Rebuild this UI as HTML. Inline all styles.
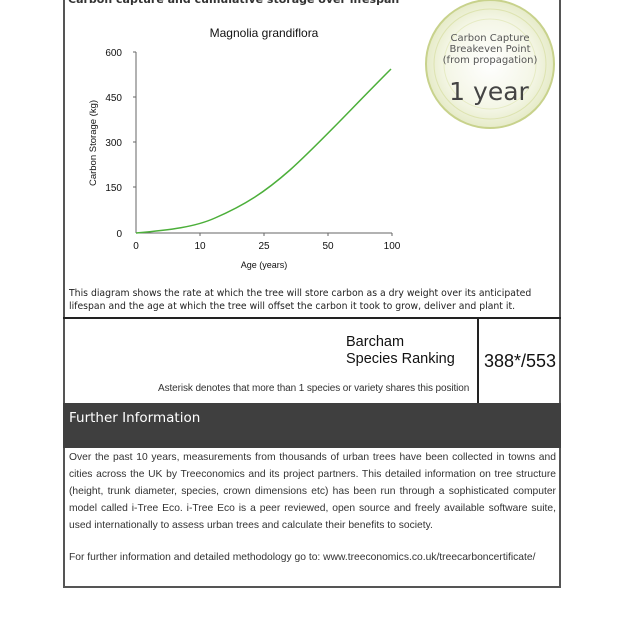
<!DOCTYPE html>
<html><head><style>
body{margin:0;width:620px;height:620px;background:#fff;position:relative;overflow:hidden;font-family:"DejaVu Sans","Liberation Sans",sans-serif}
.a{position:absolute}
.ls{font-family:"Liberation Sans",sans-serif}
</style></head><body>
<div class="a" style="left:63px;top:0;width:2px;height:588px;background:#555"></div>
<div class="a" style="left:559px;top:0;width:2px;height:588px;background:#555"></div>
<div class="a" style="left:63px;top:586px;width:498px;height:2px;background:#555"></div>
<div class="a" style="left:68px;top:-7px;font-size:11px;font-weight:bold;color:#333">Carbon capture and cumulative storage over lifespan</div>
<svg class="a" style="left:0;top:0" width="620" height="320">
<defs><radialGradient id="g" cx="0.5" cy="0.5" r="0.5"><stop offset="0" stop-color="#fff"/><stop offset="0.7" stop-color="#f4f6e6"/><stop offset="1" stop-color="#e6ebc8"/></radialGradient></defs>
<ellipse cx="490" cy="64" rx="64" ry="64" fill="url(#g)" stroke="#c8d28c" stroke-width="2"/>
<ellipse cx="490" cy="64" rx="56" ry="55" fill="none" stroke="#dde3b0" stroke-width="1"/>
<ellipse cx="490" cy="64" rx="46" ry="45" fill="none" stroke="#e6ebc4" stroke-width="1"/>
<text x="490" y="41" font-size="10" text-anchor="middle" fill="#555" font-family="DejaVu Sans">Carbon Capture</text>
<text x="490" y="52" font-size="10" text-anchor="middle" fill="#555" font-family="DejaVu Sans">Breakeven Point</text>
<text x="490" y="63" font-size="10" text-anchor="middle" fill="#555" font-family="DejaVu Sans">(from propagation)</text>
<text x="489" y="100" font-size="25" text-anchor="middle" fill="#444" font-family="DejaVu Sans">1 year</text>
<text x="264" y="37" font-size="12" text-anchor="middle" fill="#111" font-family="Liberation Sans">Magnolia grandiflora</text>
<g font-family="Liberation Sans" font-size="10" fill="#111">
<text x="122" y="56" text-anchor="end">600</text>
<text x="122" y="101" text-anchor="end">450</text>
<text x="122" y="146" text-anchor="end">300</text>
<text x="122" y="191" text-anchor="end">150</text>
<text x="122" y="237" text-anchor="end">0</text>
<text x="136" y="249" text-anchor="middle">0</text>
<text x="200" y="249" text-anchor="middle">10</text>
<text x="264" y="249" text-anchor="middle">25</text>
<text x="328" y="249" text-anchor="middle">50</text>
<text x="392" y="249" text-anchor="middle">100</text>
<text x="264" y="268" text-anchor="middle" font-size="9">Age (years)</text>
<text transform="translate(96,143) rotate(-90)" text-anchor="middle" font-size="9.5">Carbon Storage (kg)</text>
</g>
<line x1="136" y1="52" x2="136" y2="233" stroke="#666" stroke-width="1"/>
<line x1="136" y1="233" x2="392" y2="233" stroke="#666" stroke-width="1"/>
<g stroke="#666"><line x1="133" y1="52" x2="136" y2="52"/><line x1="133" y1="97" x2="136" y2="97"/><line x1="133" y1="142" x2="136" y2="142"/><line x1="133" y1="187" x2="136" y2="187"/><line x1="200" y1="233" x2="200" y2="236"/><line x1="264" y1="233" x2="264" y2="236"/><line x1="328" y1="233" x2="328" y2="236"/><line x1="392" y1="233" x2="392" y2="236"/></g>
<path d="M136,233 C170,230 195,227 215,218 C245,205 265,192 290,170 C320,143 350,110 391,69" fill="none" stroke="#4caf3a" stroke-width="1.5"/>
<text x="69" y="296" font-size="9.3" fill="#222" font-family="DejaVu Sans">This diagram shows the rate at which the tree will store carbon as a dry weight over its anticipated</text>
<text x="69" y="309" font-size="9.3" fill="#222" font-family="DejaVu Sans">lifespan and the age at which the tree will offset the carbon it took to grow, deliver and plant it.</text>
</svg>
<div class="a" style="left:63px;top:317px;width:498px;height:2px;background:#222"></div>
<div class="a" style="left:477px;top:317px;width:2px;height:88px;background:#222"></div>
<div class="a ls" style="left:346px;top:334px;font-size:14.5px;line-height:17px;color:#111">Barcham<br>Species Ranking</div>
<div class="a ls" style="left:484px;top:351px;font-size:18px;color:#111">388*/553</div>
<div class="a ls" style="left:158px;top:383px;font-size:10px;color:#333;letter-spacing:-0.1px">Asterisk denotes that more than 1 species or variety shares this position</div>
<div class="a" style="left:63px;top:403px;width:498px;height:45px;background:#3f3f3f"></div>
<div class="a" style="left:69px;top:410px;font-size:13.5px;color:#fff">Further Information</div>
<div class="a ls" style="left:69px;top:449px;width:487px;font-size:10.3px;line-height:17px;color:#333;text-align:justify">Over the past 10 years, measurements from thousands of urban trees have been collected in towns and cities across the UK by Treeconomics and its project partners. This detailed information on tree structure (height, trunk diameter, species, crown dimensions etc) has been run through a sophisticated computer model called i-Tree Eco. i-Tree Eco is a peer reviewed, open source and freely available software suite, used internationally to assess urban trees and calculate their benefits to society.</div>
<div class="a ls" style="left:69px;top:552px;font-size:10.3px;color:#333">For further information and detailed methodology go to: www.treeconomics.co.uk/treecarboncertificate/</div>
</body></html>
